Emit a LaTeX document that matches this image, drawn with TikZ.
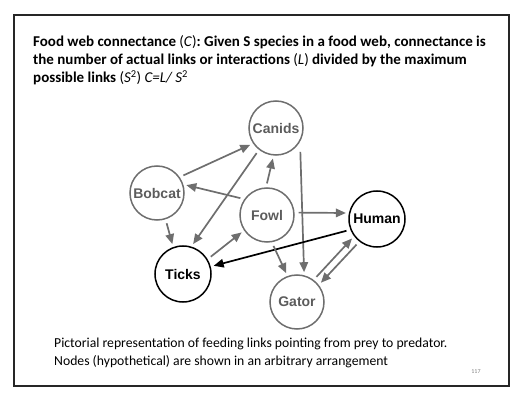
\documentclass[tikz,border=0pt]{standalone}
\usepackage{fontspec}
\setmainfont{Carlito}
\newfontfamily\arialfont{Liberation Sans}
\usetikzlibrary{arrows.meta}
\definecolor{ngray}{HTML}{6E6E6E}
\definecolor{tgray}{HTML}{5C5C5C}
\begin{document}
\begin{tikzpicture}[x=1pt,y=-1pt,
  species/.style={circle, draw=ngray, line width=1.5pt, minimum size=54pt, inner sep=0pt,
    font=\arialfont\bfseries\fontsize{14}{16}\selectfont, text=tgray},
  keyspecies/.style={species, draw=black, text=black},
  link/.style={draw=ngray, line width=1.7pt, -{Triangle[length=10pt,width=8.5pt]},
    shorten <=4pt, shorten >=3pt},
  keylink/.style={link, draw=black}]
\useasboundingbox (0,0) rectangle (523,401);
\draw[line width=1.8pt, draw=black!85] (14,15) rectangle (509,386);

\node[anchor=north west, align=left, inner sep=0pt,
  font=\bfseries\fontsize{15}{18.3}\selectfont] (title) at (33,35)
  {Food web connectance {\mdseries(\textit{C})}: Given S species in a food web, connectance is\\
   the number of actual links or interactions {\mdseries(\textit{L})} divided by the maximum\\
   possible links {\mdseries(\textit{S}\textsuperscript{2}) \textit{C=L/ S}\textsuperscript{2}}};

\node[species] (canids) at (276,128) {Canids};
\node[species] (bobcat) at (157,193) {Bobcat};
\node[species] (fowl) at (267,215) {Fowl};
\node[keyspecies, minimum size=56pt] (human) at (377,219) {Human};
\node[keyspecies, minimum size=56pt] (ticks) at (183,274) {Ticks};
\node[species] (gator) at (297,302) {Gator};

\draw[link] (bobcat.35) -- (canids.214);
\draw[link] (fowl.145) -- (bobcat.18);
\draw[link] (fowl.92) -- (canids.265);
\draw[link] (canids.232) -- (ticks.73);
\draw[link, shorten <=10pt] (canids.-30) -- (gator.75);
\draw[link] (fowl.5) -- (human.168);
\draw[link] (bobcat.-72) -- (ticks.110);
\draw[link] (ticks.31) -- (fowl.214);
\draw[keylink] (human.202) -- (ticks.15);
\draw[link] (fowl.-80) -- (gator.110);
\draw[link] (gator.53) -- (human.217);
\draw[link] (human.232) -- (gator.38);

\node[anchor=north west, align=left, inner sep=0pt,
  font=\fontsize{13.7}{17.5}\selectfont] (caption) at (54,338)
  {Pictorial representation of feeding links pointing from prey to predator.\\
   Nodes (hypothetical) are shown in an arbitrary arrangement};
\node[font=\fontsize{6}{7}\selectfont, text=gray] (pagenum) at (476,372) {117};
\end{tikzpicture}
\end{document}
